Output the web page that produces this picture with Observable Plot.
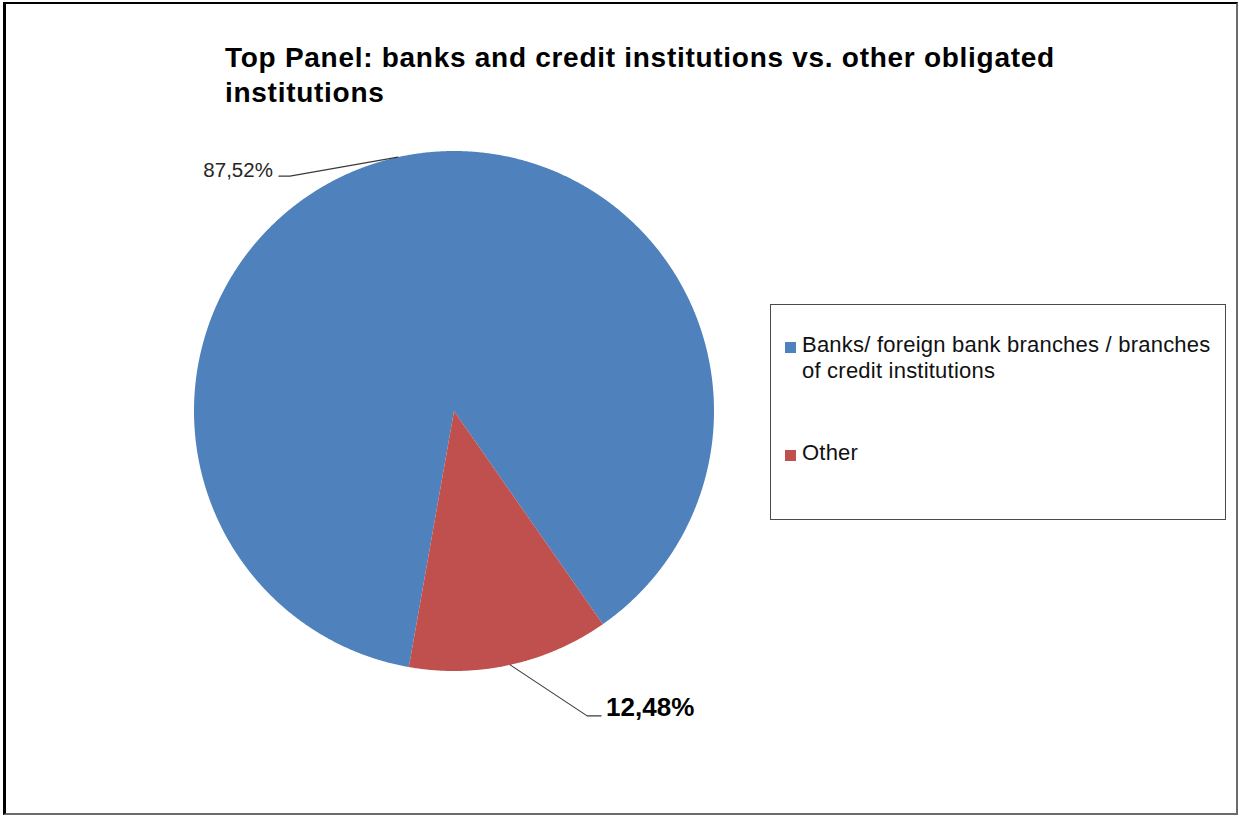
<!DOCTYPE html>
<html>
<head>
<meta charset="utf-8">
<script src="https://cdn.jsdelivr.net/npm/d3@7"></script>
<script src="https://cdn.jsdelivr.net/npm/@observablehq/plot@0.6"></script>
<style>
  html, body { margin: 0; padding: 0; background: #fff; }
  #chart { position: relative; width: 1239px; height: 816px; overflow: hidden;
           font-family: "Liberation Sans", Arial, Helvetica, sans-serif; color: #000; }
  #frame { position: absolute; left: 3px; top: 2px; width: 1235px; height: 813px; box-sizing: border-box;
           border-left: 3px solid #000; border-top: 2px solid #000;
           border-right: 2px solid #6b6b6b; border-bottom: 2px solid #6b6b6b; }
  #title { position: absolute; left: 225px; top: 40px; width: 860px;
           font-size: 28px; font-weight: bold; line-height: 35px; letter-spacing: 0.72px; }
  #plot { position: absolute; left: 0; top: 0; }
  #legend { position: absolute; left: 770px; top: 304px; width: 456px; height: 216px; box-sizing: border-box;
            border: 1.5px solid #4a4a4a; }
  .item { position: absolute; left: 0; width: 100%; }
  .swatch { position: absolute; left: 14px; width: 11px; height: 11px; }
  .label { position: absolute; left: 31px; width: 418px; font-size: 22px; line-height: 26px;
           letter-spacing: 0.22px; color: #111; }
</style>
</head>
<body>
<div id="chart">
  <div id="frame"></div>
  <div id="title"></div>
  <div id="plot"></div>
  <div id="legend"></div>
</div>
<script>
// Share of reports by type of obligated institution
const titleText = "Top Panel: banks and credit institutions vs. other obligated institutions";
const categories = ["Banks/ foreign bank branches / branches of credit institutions", "Other"];
const shares = [87.52, 12.48];
const shareLabels = ["87,52%", "12,48%"];
const sliceColors = ["#4F81BD", "#C0504D"];

// Layout of the pie and its callouts (pixels)
const W = 1239, H = 816;
const cx = 453.5, cy = 410.5, R = 260;
const firstSliceAngle = 190; // degrees clockwise from 12 o'clock
const callouts = [
  {dx: -108, dy: 19, run: -11, anchor: "end", gap: -6, size: 20.5, weight: "normal", color: "#262626", textDy: -6},
  {dx: 77, dy: 51, run: 14, anchor: "start", gap: 5, size: 26, weight: "bold", color: "#000", textDy: -8}
];

document.getElementById("title").textContent = titleText;

const deg = Math.PI / 180;
const arcs = d3.pie().sort(null)
  .startAngle(firstSliceAngle * deg)
  .endAngle(firstSliceAngle * deg + 2 * Math.PI)(shares);

// Slice outlines in unit-circle coordinates
const slicePoints = arcs.flatMap((a, i) => {
  const n = Math.max(2, Math.ceil((a.endAngle - a.startAngle) / (0.25 * deg)));
  const pts = [{category: categories[i], x: 0, y: 0}];
  for (let k = 0; k <= n; k++) {
    const t = a.startAngle + (a.endAngle - a.startAngle) * k / n;
    pts.push({category: categories[i], x: Math.sin(t), y: Math.cos(t)});
  }
  pts.push({category: categories[i], x: 0, y: 0});
  return pts;
});

// Leader lines from each slice's mid-arc to its label
const leaders = [];
const labelRows = [];
arcs.forEach((a, i) => {
  const m = (a.startAngle + a.endAngle) / 2;
  const c = callouts[i];
  const p0 = {x: Math.sin(m), y: Math.cos(m)};
  const p1 = {x: p0.x + c.dx / R, y: p0.y - c.dy / R};
  const p2 = {x: p1.x + c.run / R, y: p1.y};
  leaders.push({category: categories[i], ...p0}, {category: categories[i], ...p1}, {category: categories[i], ...p2});
  labelRows.push({x: p2.x, y: p2.y, text: shareLabels[i], c});
});

const plot = Plot.plot({
  width: W,
  height: H,
  marginLeft: cx - R,
  marginRight: W - (cx + R),
  marginTop: cy - R,
  marginBottom: H - (cy + R),
  x: {domain: [-1, 1], axis: null},
  y: {domain: [-1, 1], axis: null},
  color: {domain: categories, range: sliceColors},
  style: {fontFamily: "'Liberation Sans', Arial, Helvetica, sans-serif", background: "transparent", overflow: "visible"},
  marks: [
    Plot.line(slicePoints, {x: "x", y: "y", z: "category", fill: "category", stroke: null, curve: "linear"}),
    Plot.line(leaders, {x: "x", y: "y", z: "category", stroke: "#3a3a3a", strokeWidth: 1.1}),
    ...labelRows.map(r => Plot.text([r], {
      x: "x", y: "y", text: "text",
      textAnchor: r.c.anchor, dx: r.c.gap, dy: r.c.textDy,
      fontSize: r.c.size, fontWeight: r.c.weight, fill: r.c.color
    }))
  ]
});
document.getElementById("plot").appendChild(plot);

// Legend: swatch + wrapped category name
const legend = d3.select("#legend");
const itemTops = [27, 135];
categories.forEach((name, i) => {
  const item = legend.append("div").attr("class", "item").style("top", itemTops[i] + "px");
  item.append("div").attr("class", "swatch").style("top", "10px").style("background", sliceColors[i]);
  item.append("div").attr("class", "label").text(name);
});
</script>
</body>
</html>
